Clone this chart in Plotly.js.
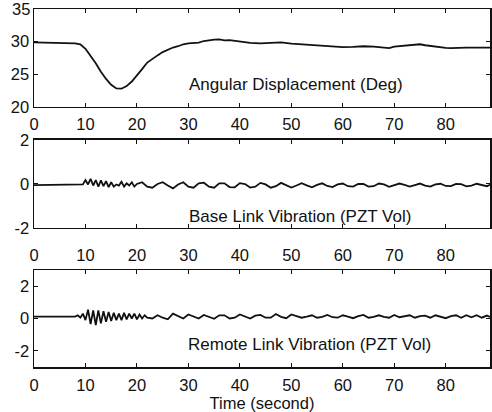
<!DOCTYPE html>
<html>
<head>
<meta charset="utf-8">
<script src="https://cdn.plot.ly/plotly-3.0.1.min.js"></script>
<style>html,body{margin:0;padding:0;background:#fff;}#chart{width:492px;height:412px;}</style>
</head>
<body>
<div id="chart"></div>
<script>
// Angular displacement (deg)
var angTime = [0,2,4,6,8,9,10,11,12,13,14,15,16,17,18,19,20,21,22,23,24,25,26,27,28,29,30,31,32,33,34,35,36,37,38,40,42,44,46,48,50,52,54,56,58,60,62,64,66,68,69,70,72,74,75,76,78,80,81,82,84,86,88.6];
var angDeg = [29.9,29.85,29.8,29.75,29.75,29.6,28.9,27.8,26.7,25.4,24.3,23.4,22.85,22.8,23.2,23.9,24.8,25.8,26.8,27.4,27.9,28.4,28.8,29.1,29.3,29.6,29.75,29.8,29.85,30.1,30.25,30.3,30.35,30.2,30.25,30.0,29.8,29.75,29.8,29.9,29.7,29.6,29.55,29.4,29.25,29.15,29.2,29.3,29.25,29.15,29.0,29.25,29.4,29.55,29.6,29.45,29.2,29.05,29.0,29.05,29.1,29.1,29.1];

// Base link vibration (PZT volt)
var baseTime = [0,8,9,9.5,10,10.5,11,11.5,12,12.5,13,13.5,14,14.5,15,15.5,16,16.5,17,17.5,18,18.5,19,19.5,20,21,22,23,24,25,26,27,28,29,30,31,32,33,34,35,36,37,38,39,40,41,42,43,44,45,46,47,48,49,50,51,52,53,54,55,56,57,58,59,60,61,62,63,64,65,66,67,68,69,70,71,72,73,74,75,76,77,78,79,80,81,82,83,84,85,86,87,88,88.6];
var baseVolt = [-0.05,-0.05,-0.05,-0.02,0.18,-0.02,0.23,-0.07,0.18,-0.12,0.16,-0.1,0.13,-0.14,0.08,-0.12,-0.02,-0.07,0.1,-0.12,0.03,-0.07,0.08,-0.12,0.0,0.08,-0.12,-0.17,0.0,0.08,-0.07,-0.2,-0.02,0.08,-0.12,-0.17,0.03,0.06,-0.12,-0.17,0.03,0.03,-0.14,-0.15,0.04,0.0,-0.16,-0.12,0.05,-0.02,-0.17,-0.1,0.05,-0.04,-0.16,-0.07,0.04,-0.06,-0.15,-0.04,0.03,-0.09,-0.14,-0.02,0.02,-0.1,-0.12,0.0,0.0,-0.12,-0.1,0.02,-0.02,-0.13,-0.07,0.02,-0.04,-0.12,-0.05,0.02,-0.07,-0.12,-0.02,0.01,-0.09,-0.1,0.0,-0.01,-0.11,-0.07,0.01,-0.04,-0.1,-0.04];

// Remote link vibration (PZT volt)
var remoteTime = [0,7,8,8.5,9,9.5,10,10.5,11,11.5,12,12.5,13,13.5,14,14.5,15,15.5,16,16.5,17,17.5,18,18.5,19,19.5,20,20.5,21,21.5,22,23,24,25,26,27,28,29,30,31,32,33,34,35,36,37,38,39,40,41,42,43,44,45,46,47,48,49,50,51,52,53,54,55,56,57,58,59,60,61,62,63,64,65,66,67,68,69,70,71,72,73,74,75,76,77,78,79,80,81,82,83,84,85,86,87,88,88.6];
var remoteVolt = [0.12,0.12,0.12,0.2,0.05,0.3,-0.1,0.55,-0.35,0.5,-0.4,0.5,-0.3,0.45,-0.2,0.4,-0.15,0.35,-0.1,0.3,-0.1,0.35,-0.05,0.3,0.0,0.3,-0.05,0.25,0.0,0.2,0.05,0.0,0.2,0.05,-0.05,0.3,0.15,0.0,0.25,0.1,0.0,0.22,0.1,-0.02,0.2,0.2,0.0,0.05,0.25,0.1,0.0,0.18,0.22,0.05,0.05,0.28,0.1,0.02,0.25,0.15,0.05,0.12,0.2,0.05,0.1,0.22,0.08,0.05,0.2,0.12,0.02,0.15,0.22,0.05,0.1,0.2,0.1,0.05,0.22,0.08,0.12,0.2,0.05,0.15,0.18,0.05,0.2,0.1,0.02,0.15,0.2,0.05,0.2,0.08,0.2,0.05,0.18,0.1];

var xTicks = [0,10,20,30,40,50,60,70,80];
var angTicks = [20,25,30,35];
var voltTicks = [-2,0,2];
var panelLabels = ["Angular Displacement (Deg)","Base Link Vibration (PZT Vol)","Remote Link Vibration (PZT Vol)"];
var xTitle = "Time (second)";

var FONT = "Liberation Sans, Arial, Helvetica, sans-serif";
var lineStyle = {color:"#111", width:1.8};

var traces = [
  {x:angTime, y:angDeg, type:"scatter", mode:"lines", line:lineStyle, xaxis:"x", yaxis:"y", hoverinfo:"skip"},
  {x:baseTime, y:baseVolt, type:"scatter", mode:"lines", line:lineStyle, xaxis:"x2", yaxis:"y2", hoverinfo:"skip"},
  {x:remoteTime, y:remoteVolt, type:"scatter", mode:"lines", line:lineStyle, xaxis:"x3", yaxis:"y3", hoverinfo:"skip"}
];

function xa(anchor, standoff, extra){
  var o = {anchor:anchor, range:[0,88.6], tickvals:xTicks, ticktext:xTicks.map(String),
    showline:true, linecolor:"#111", linewidth:1.5, mirror:"ticks", ticks:"inside", ticklen:4, tickwidth:1, tickcolor:"#111",
    showgrid:false, zeroline:false, tickfont:{family:FONT, size:16.5, color:"#111"}, ticklabelstandoff:standoff, automargin:false};
  for (var k in extra) o[k]=extra[k];
  return o;
}
function ya(anchor, domain, range, tv, tt){
  return {anchor:anchor, domain:domain, range:range, tickvals:tv, ticktext:tt,
    showline:true, linecolor:"#111", linewidth:1.5, mirror:"ticks", ticks:"inside", ticklen:4, tickwidth:1, tickcolor:"#111",
    showgrid:false, zeroline:false, tickfont:{family:FONT, size:16.5, color:"#111"}, ticklabelstandoff:0, automargin:false};
}

// the top tick label of the upper panel sits at the very edge of the div, where Plotly hides it;
// it is drawn as an annotation at the same data position instead
var angTickText = angTicks.map(function(v, i){ return i === angTicks.length - 1 ? "" : String(v); });
var topTickLabel = {xref:"paper", yref:"y", x:0, y:angTicks[angTicks.length-1], xanchor:"right", yanchor:"middle",
  xshift:-2, text:String(angTicks[angTicks.length-1]), showarrow:false, font:{family:FONT, size:16.5, color:"#111"}};

var layout = {
  width:492, height:412,
  margin:{l:34, r:2, t:9, b:45},
  paper_bgcolor:"#fff", plot_bgcolor:"#fff",
  showlegend:false,
  xaxis: xa("y", 2, {}),
  yaxis: ya("x", [0.7263,1], [20,35], angTicks, angTickText),
  xaxis2: xa("y2", 12, {}),
  yaxis2: ya("x2", [0.3883,0.6341], [-2,2], voltTicks, voltTicks.map(String)),
  xaxis3: xa("y3", 3, {title:{text:xTitle, font:{family:FONT, size:16.5, color:"#111"}, standoff:0}}),
  yaxis3: ya("x3", [0,0.2709], [-3,3], voltTicks, voltTicks.map(String)),
  annotations:[
    topTickLabel,
    {xref:"x", yref:"y", x:50.9, y:23.5, text:panelLabels[0], showarrow:false, font:{family:FONT, size:17, color:"#111"}},
    {xref:"x2", yref:"y2", x:51.7, y:-1.5, text:panelLabels[1], showarrow:false, font:{family:FONT, size:17, color:"#111"}},
    {xref:"x3", yref:"y3", x:53.6, y:-1.6, text:panelLabels[2], showarrow:false, font:{family:FONT, size:17, color:"#111"}}
  ]
};

Plotly.newPlot("chart", traces, layout, {staticPlot:true, displayModeBar:false});
</script>
</body>
</html>
